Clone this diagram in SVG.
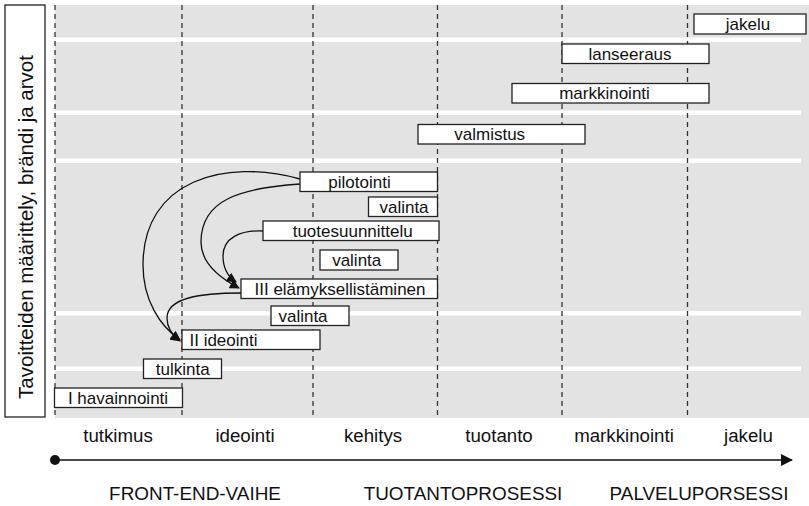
<svg xmlns="http://www.w3.org/2000/svg" width="809" height="506" viewBox="0 0 809 506">
<style>
text{font-family:"Liberation Sans",Arial,sans-serif;fill:#111}
.box{fill:#fff;stroke:#222;stroke-width:1.3}
.bl{font-size:17px;text-anchor:middle}
.ax{font-size:18.7px;text-anchor:middle}
.ph{font-size:18.9px;text-anchor:middle}
.dash{stroke:#333;stroke-width:1.3;stroke-dasharray:5 4;fill:none}
.stripe{fill:#fff}
.con{fill:none;stroke:#111;stroke-width:1.3}
</style>
<defs>
<marker id="ah" viewBox="0 0 10 10" refX="9" refY="5" markerWidth="10.5" markerHeight="10" markerUnits="userSpaceOnUse" orient="auto">
<path d="M0,0 L10,5 L0,10 z" fill="#111"/>
</marker>
<marker id="tl" viewBox="0 0 12 12" refX="11" refY="6" markerWidth="12" markerHeight="12" markerUnits="userSpaceOnUse" orient="auto">
<path d="M0,0 L12,6 L0,12 z" fill="#111"/>
</marker>
</defs>
<rect width="809" height="506" fill="#fff"/>
<g id="background">
<rect x="55" y="5" width="754" height="413" fill="#e3e3e3"/>
<rect class="stripe" x="55" y="37.5" width="746" height="4.5"/>
<rect class="stripe" x="55" y="110.5" width="746" height="4.5"/>
<rect class="stripe" x="55" y="158.5" width="746" height="4.5"/>
<rect class="stripe" x="55" y="311" width="746" height="4.5"/>
<rect class="stripe" x="55" y="366.5" width="746" height="4.5"/>
<line class="dash" x1="55" y1="5" x2="55" y2="418"/>
<line class="dash" x1="182" y1="5" x2="182" y2="418"/>
<line class="dash" x1="313" y1="5" x2="313" y2="418"/>
<line class="dash" x1="437.5" y1="5" x2="437.5" y2="418"/>
<line class="dash" x1="562" y1="5" x2="562" y2="418"/>
<line class="dash" x1="687.5" y1="5" x2="687.5" y2="418"/>
</g>
<g id="goals">
<rect class="box" x="5" y="5" width="40" height="412"/>
<text transform="translate(32.5,227) rotate(-90)" style="font-size:20.5px;text-anchor:middle">Tavoitteiden määrittely, brändi ja arvot</text>
</g>
<g id="connectors">
<path class="con" d="M300,179 C225,158 143,180 143,265 C143,300 160,326 180,340" marker-end="url(#ah)"/>
<path class="con" d="M300,184 C240,188 201,200 201,242 C201,262 218,277 239,288" marker-end="url(#ah)"/>
<path class="con" d="M263,231 C240,230 223,238 223,256 C223,268 227,276 236,282" marker-end="url(#ah)"/>
<path class="con" d="M241,293 C200,293 167,298 167,318 C167,328 172,335 180,341" marker-end="url(#ah)"/>
<line x1="55" y1="460" x2="792" y2="460" stroke="#111" stroke-width="1.5" marker-end="url(#tl)"/>
<circle cx="55" cy="460" r="5" fill="#111"/>
</g>
<g id="n-jakelu"><rect class="box" x="694" y="14" width="112" height="20"/><text class="bl" x="748" y="30">jakelu</text></g>
<g id="n-lanseeraus"><rect class="box" x="562" y="44" width="147" height="19.5"/><text class="bl" x="630" y="59.5">lanseeraus</text></g>
<g id="n-markkinointi"><rect class="box" x="512" y="83.5" width="197" height="19.5"/><text class="bl" x="604.5" y="99">markkinointi</text></g>
<g id="n-valmistus"><rect class="box" x="418" y="124.5" width="167" height="19.5"/><text class="bl" x="489.7" y="140">valmistus</text></g>
<g id="n-pilotointi"><rect class="box" x="300" y="172" width="137.5" height="19.5"/><text class="bl" x="359.5" y="187.5">pilotointi</text></g>
<g id="n-valinta1"><rect class="box" x="368.5" y="197" width="69" height="19.5"/><text class="bl" x="404" y="212.5">valinta</text></g>
<g id="n-tuotesuunnittelu"><rect class="box" x="263" y="221" width="176" height="19.5"/><text class="bl" x="352.7" y="236.5">tuotesuunnittelu</text></g>
<g id="n-valinta2"><rect class="box" x="320" y="250" width="78" height="20"/><text class="bl" x="356.7" y="266">valinta</text></g>
<g id="n-elamyksellistaminen"><rect class="box" x="241" y="279" width="196.5" height="19.5"/><text class="bl" x="340" y="294.5">III elämyksellistäminen</text></g>
<g id="n-valinta3"><rect class="box" x="271" y="306" width="78" height="19.5"/><text class="bl" x="303" y="321.5">valinta</text></g>
<g id="n-ideointi"><rect class="box" x="182" y="330" width="138" height="19.5"/><text class="bl" x="223.5" y="345.5">II ideointi</text></g>
<g id="n-tulkinta"><rect class="box" x="143.5" y="359" width="78" height="19.5"/><text class="bl" x="182.7" y="374.5">tulkinta</text></g>
<g id="n-havainnointi"><rect class="box" x="54.5" y="388" width="128" height="19.5"/><text class="bl" x="118" y="403.5">I havainnointi</text></g>
<g id="axis-labels">
<text class="ax" x="118" y="442">tutkimus</text>
<text class="ax" x="245" y="442">ideointi</text>
<text class="ax" x="373" y="442">kehitys</text>
<text class="ax" x="499" y="442">tuotanto</text>
<text class="ax" x="624" y="442">markkinointi</text>
<text class="ax" x="748.5" y="442">jakelu</text>
</g>
<g id="phase-labels">
<text class="ph" x="195" y="500">FRONT-END-VAIHE</text>
<text class="ph" x="463" y="500">TUOTANTOPROSESSI</text>
<text class="ph" x="699" y="500">PALVELUPORSESSI</text>
</g>
</svg>
